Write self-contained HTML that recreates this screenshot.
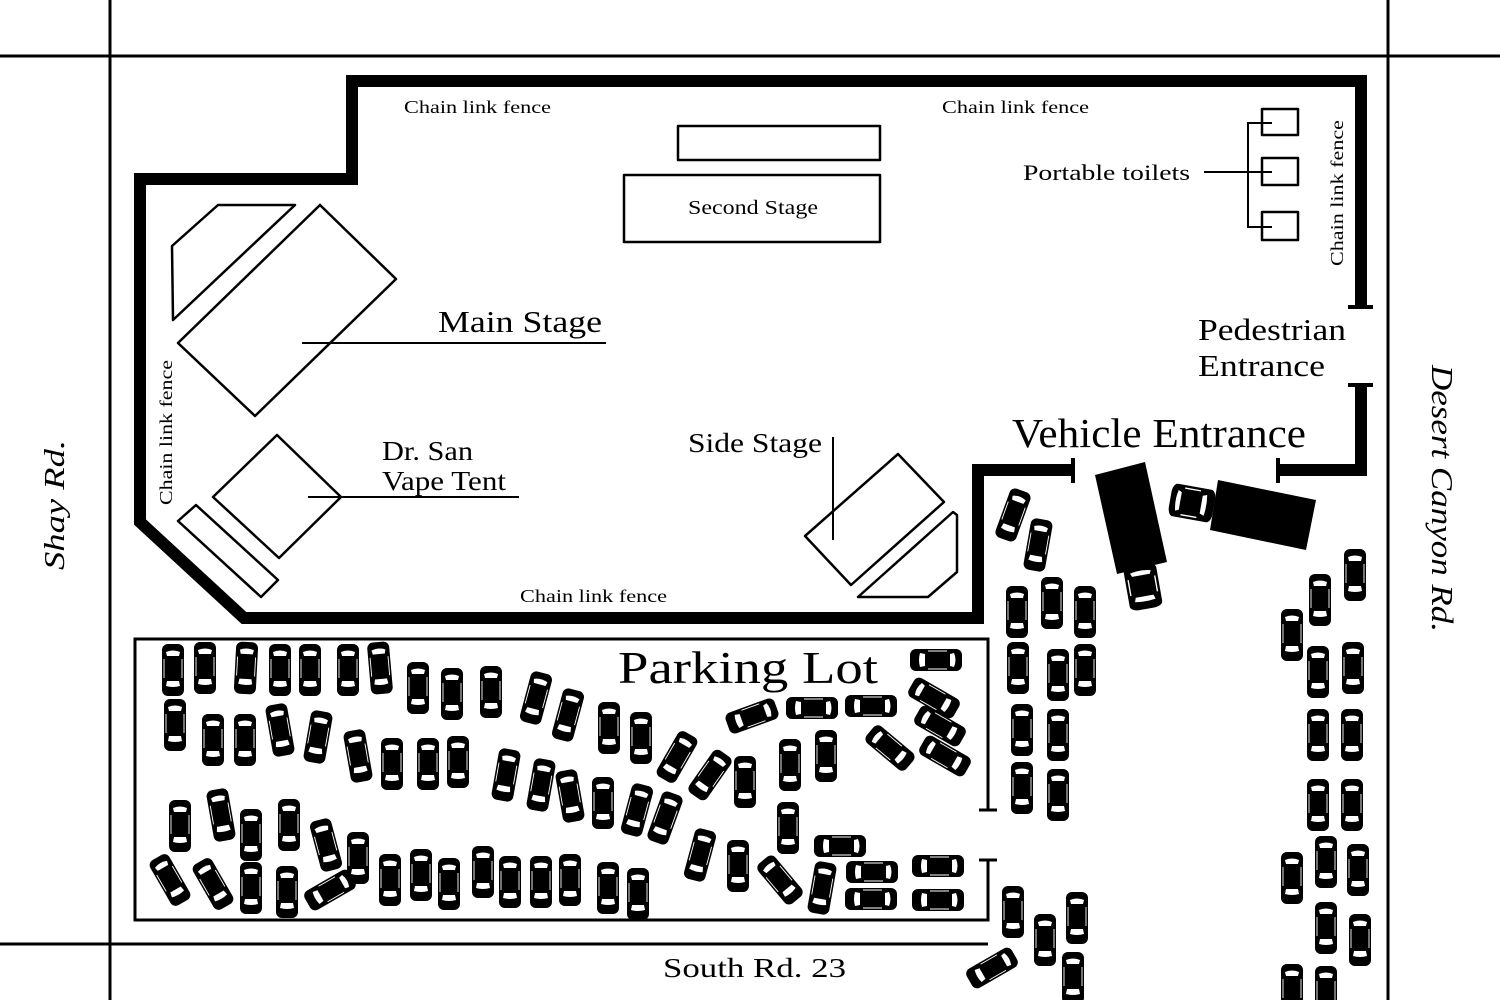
<!DOCTYPE html>
<html><head><meta charset="utf-8"><style>
html,body{margin:0;padding:0;background:#fff;}
svg{display:block;}
text{font-family:"Liberation Serif",serif;fill:#000;}
</style></head><body>
<svg width="1500" height="1000" viewBox="0 0 1500 1000" xmlns="http://www.w3.org/2000/svg">
<defs>
<g id="c">
<rect x="-11" y="-26" width="22" height="52" rx="6" fill="#000"/>
<path d="M-7,-18 Q0,-21 7,-18 L6,-14 L-6,-14 Z" fill="#fff"/>
<path d="M-7,16 Q0,18 7,16 L6,11 L-6,11 Z" fill="#fff"/>
<line x1="-9" y1="-11" x2="-9" y2="8" stroke="#fff" stroke-width="0.9"/>
<line x1="9" y1="-11" x2="9" y2="8" stroke="#fff" stroke-width="0.9"/>
</g>
</defs>
<rect width="1500" height="1000" fill="#fff"/>
<g stroke="#000" stroke-width="3" fill="none">
<line x1="0" y1="56" x2="1500" y2="56"/>
<line x1="110" y1="0" x2="110" y2="1000"/>
<line x1="1388" y1="0" x2="1388" y2="1000"/>
<line x1="0" y1="944" x2="988" y2="944"/>
</g>
<g stroke="#000" stroke-width="12" fill="none" stroke-linejoin="miter">
<path d="M1361,307 L1361,81 L352,81 L352,179 L140,179 L140,522 L244,618 L978,618 L978,470 L1073,470"/>
<path d="M1278,470 L1361,470 L1361,385"/>
</g>
<g stroke="#000" stroke-width="4">
<line x1="1073" y1="458" x2="1073" y2="483"/>
<line x1="1278" y1="458" x2="1278" y2="483"/>
<line x1="1348" y1="307" x2="1373" y2="307"/>
<line x1="1348" y1="385" x2="1373" y2="385"/>
</g>
<g stroke="#000" stroke-width="3" fill="none">
<path d="M988,810 L988,639 L135,639 L135,920 L988,920 L988,860"/>
<line x1="979" y1="810" x2="997" y2="810"/>
<line x1="979" y1="860" x2="997" y2="860"/>
</g>
<g stroke="#000" stroke-width="2.5" fill="none" stroke-linejoin="round">
<rect x="678" y="126" width="202" height="34"/>
<rect x="624" y="175" width="256" height="67"/>
<polygon points="178,343 320,205 396,279 255,416"/>
<polygon points="172,246 218,205 295,205 173,320"/>
<polygon points="213,497 277,435 341,497 279,558"/>
<polygon points="178,521 196,505 278,580 261,597"/>
<polygon points="805,536 898,454 944,502 851,585"/>
<polygon points="858,597 953,512 957,515 957,572 928,597"/>
<rect x="1262" y="109" width="36" height="26"/>
<rect x="1262" y="158" width="36" height="27"/>
<rect x="1262" y="212" width="36" height="28"/>
</g>
<g stroke="#000" stroke-width="2" fill="none">
<line x1="302" y1="343" x2="606" y2="343"/>
<line x1="308" y1="497" x2="519" y2="497"/>
<line x1="833" y1="437" x2="833" y2="540"/>
<line x1="1204" y1="172" x2="1272" y2="172"/>
<path d="M1272,123 L1248,123 L1248,227 L1272,227"/>
</g>
<text x="404" y="113" font-size="18" textLength="147" lengthAdjust="spacingAndGlyphs">Chain link fence</text>
<text x="942" y="113" font-size="18" textLength="147" lengthAdjust="spacingAndGlyphs">Chain link fence</text>
<text x="520" y="602" font-size="18" textLength="147" lengthAdjust="spacingAndGlyphs">Chain link fence</text>
<text transform="translate(172,505) rotate(-90)" font-size="18" textLength="145" lengthAdjust="spacingAndGlyphs">Chain link fence</text>
<text transform="translate(1343,266) rotate(-90)" font-size="18" textLength="146" lengthAdjust="spacingAndGlyphs">Chain link fence</text>
<text x="688" y="214" font-size="20" textLength="130" lengthAdjust="spacingAndGlyphs">Second Stage</text>
<text x="1023" y="180" font-size="22" textLength="167" lengthAdjust="spacingAndGlyphs">Portable toilets</text>
<text x="438" y="332" font-size="31" textLength="164" lengthAdjust="spacingAndGlyphs">Main Stage</text>
<text x="382" y="460" font-size="27" textLength="91" lengthAdjust="spacingAndGlyphs">Dr. San</text>
<text x="382" y="490" font-size="27" textLength="124" lengthAdjust="spacingAndGlyphs">Vape Tent</text>
<text x="688" y="452" font-size="27" textLength="134" lengthAdjust="spacingAndGlyphs">Side Stage</text>
<text x="1198" y="340" font-size="31" textLength="148" lengthAdjust="spacingAndGlyphs">Pedestrian</text>
<text x="1198" y="376" font-size="31" textLength="127" lengthAdjust="spacingAndGlyphs">Entrance</text>
<text x="1012" y="447" font-size="41" textLength="294" lengthAdjust="spacingAndGlyphs">Vehicle Entrance</text>
<text x="618" y="683" font-size="45" textLength="260" lengthAdjust="spacingAndGlyphs">Parking Lot</text>
<text x="663" y="977" font-size="27" textLength="183" lengthAdjust="spacingAndGlyphs">South Rd. 23</text>
<text transform="translate(64,570) rotate(-90)" font-size="29" font-style="italic" textLength="130" lengthAdjust="spacingAndGlyphs">Shay Rd.</text>
<text transform="translate(1432,365) rotate(90)" font-size="31" font-style="italic" textLength="267" lengthAdjust="spacingAndGlyphs">Desert Canyon Rd.</text>
<polygon points="1095,475 1145,462 1167,562 1117,574" fill="#000"/>
<use href="#c" transform="translate(1143,587) rotate(-10) scale(1.5,0.85)"/>
<polygon points="1218,480 1316,500 1306,550 1210,530" fill="#000"/>
<use href="#c" transform="translate(1192,503) rotate(-80) scale(1.5,0.85)"/>
<g>
<use href="#c" transform="translate(173,670)"/>
<use href="#c" transform="translate(205,668)"/>
<use href="#c" transform="translate(246,668) rotate(3)"/>
<use href="#c" transform="translate(280,670)"/>
<use href="#c" transform="translate(310,670)"/>
<use href="#c" transform="translate(348,670)"/>
<use href="#c" transform="translate(380,668) rotate(-5)"/>
<use href="#c" transform="translate(418,688)"/>
<use href="#c" transform="translate(452,694)"/>
<use href="#c" transform="translate(491,692)"/>
<use href="#c" transform="translate(536,698) rotate(15)"/>
<use href="#c" transform="translate(568,715) rotate(15)"/>
<use href="#c" transform="translate(609,728)"/>
<use href="#c" transform="translate(641,738)"/>
<use href="#c" transform="translate(677,757) rotate(30)"/>
<use href="#c" transform="translate(710,775) rotate(35)"/>
<use href="#c" transform="translate(745,782)"/>
<use href="#c" transform="translate(790,765)"/>
<use href="#c" transform="translate(826,756)"/>
<use href="#c" transform="translate(752,716) rotate(70)"/>
<use href="#c" transform="translate(812,708) rotate(90)"/>
<use href="#c" transform="translate(871,706) rotate(90)"/>
<use href="#c" transform="translate(936,660) rotate(90)"/>
<use href="#c" transform="translate(934,698) rotate(-60)"/>
<use href="#c" transform="translate(940,726) rotate(-60)"/>
<use href="#c" transform="translate(945,756) rotate(-60)"/>
<use href="#c" transform="translate(890,748) rotate(-50)"/>
<use href="#c" transform="translate(175,725)"/>
<use href="#c" transform="translate(213,740)"/>
<use href="#c" transform="translate(245,740)"/>
<use href="#c" transform="translate(280,730) rotate(-10)"/>
<use href="#c" transform="translate(318,737) rotate(10)"/>
<use href="#c" transform="translate(358,756) rotate(-10)"/>
<use href="#c" transform="translate(392,764)"/>
<use href="#c" transform="translate(428,764)"/>
<use href="#c" transform="translate(458,762)"/>
<use href="#c" transform="translate(506,775) rotate(10)"/>
<use href="#c" transform="translate(541,785) rotate(10)"/>
<use href="#c" transform="translate(570,796) rotate(-10)"/>
<use href="#c" transform="translate(603,803)"/>
<use href="#c" transform="translate(637,810) rotate(15)"/>
<use href="#c" transform="translate(665,818) rotate(20)"/>
<use href="#c" transform="translate(180,826)"/>
<use href="#c" transform="translate(221,815) rotate(-10)"/>
<use href="#c" transform="translate(251,835)"/>
<use href="#c" transform="translate(289,825)"/>
<use href="#c" transform="translate(326,845) rotate(-15)"/>
<use href="#c" transform="translate(358,858)"/>
<use href="#c" transform="translate(170,880) rotate(-30)"/>
<use href="#c" transform="translate(213,884) rotate(-30)"/>
<use href="#c" transform="translate(251,888)"/>
<use href="#c" transform="translate(287,892)"/>
<use href="#c" transform="translate(330,890) rotate(60)"/>
<use href="#c" transform="translate(390,880)"/>
<use href="#c" transform="translate(421,875)"/>
<use href="#c" transform="translate(449,884)"/>
<use href="#c" transform="translate(483,872)"/>
<use href="#c" transform="translate(510,882)"/>
<use href="#c" transform="translate(541,882)"/>
<use href="#c" transform="translate(570,880)"/>
<use href="#c" transform="translate(608,888)"/>
<use href="#c" transform="translate(638,894)"/>
<use href="#c" transform="translate(700,855) rotate(15)"/>
<use href="#c" transform="translate(738,866)"/>
<use href="#c" transform="translate(780,880) rotate(-40)"/>
<use href="#c" transform="translate(788,828)"/>
<use href="#c" transform="translate(822,888) rotate(10)"/>
<use href="#c" transform="translate(840,846) rotate(90)"/>
<use href="#c" transform="translate(872,872) rotate(90)"/>
<use href="#c" transform="translate(871,899) rotate(90)"/>
<use href="#c" transform="translate(938,866) rotate(90)"/>
<use href="#c" transform="translate(938,900) rotate(90)"/>
<use href="#c" transform="translate(1013,515) rotate(20)"/>
<use href="#c" transform="translate(1038,545) rotate(10)"/>
<use href="#c" transform="translate(1017,612)"/>
<use href="#c" transform="translate(1052,603)"/>
<use href="#c" transform="translate(1085,612)"/>
<use href="#c" transform="translate(1018,668)"/>
<use href="#c" transform="translate(1058,675)"/>
<use href="#c" transform="translate(1085,670)"/>
<use href="#c" transform="translate(1022,730)"/>
<use href="#c" transform="translate(1058,735)"/>
<use href="#c" transform="translate(1022,788)"/>
<use href="#c" transform="translate(1058,795)"/>
<use href="#c" transform="translate(1013,912)"/>
<use href="#c" transform="translate(1045,940)"/>
<use href="#c" transform="translate(1077,918)"/>
<use href="#c" transform="translate(1073,978)"/>
<use href="#c" transform="translate(992,968) rotate(60)"/>
<use href="#c" transform="translate(1355,575)"/>
<use href="#c" transform="translate(1320,600)"/>
<use href="#c" transform="translate(1292,635)"/>
<use href="#c" transform="translate(1318,672)"/>
<use href="#c" transform="translate(1353,668)"/>
<use href="#c" transform="translate(1318,735)"/>
<use href="#c" transform="translate(1352,735)"/>
<use href="#c" transform="translate(1318,805)"/>
<use href="#c" transform="translate(1352,805)"/>
<use href="#c" transform="translate(1292,878)"/>
<use href="#c" transform="translate(1326,862)"/>
<use href="#c" transform="translate(1358,870)"/>
<use href="#c" transform="translate(1326,928)"/>
<use href="#c" transform="translate(1360,940)"/>
<use href="#c" transform="translate(1292,990)"/>
<use href="#c" transform="translate(1326,992)"/>
</g>
</svg>
</body></html>
